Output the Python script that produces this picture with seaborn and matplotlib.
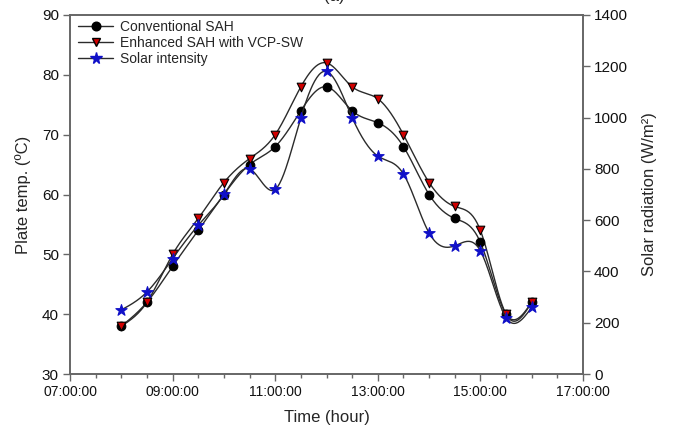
import numpy as np
import pandas as pd
import matplotlib
matplotlib.use("Agg")
import matplotlib.pyplot as plt
from matplotlib.lines import Line2D
from matplotlib.ticker import MultipleLocator, FixedLocator
import seaborn as sns

# ---- data ----
times = ["08:00", "08:30", "09:00", "09:30", "10:00", "10:30", "11:00", "11:30",
         "12:00", "12:30", "13:00", "13:30", "14:00", "14:30", "15:00", "15:30", "16:00"]
conventional = [38, 42, 48, 54, 60, 65, 68, 74, 78, 74, 72, 68, 60, 56, 52, 40, 42]
enhanced = [38, 42, 50, 56, 62, 66, 70, 78, 82, 78, 76, 70, 62, 58, 54, 40, 42]
solar = [250, 320, 450, 580, 700, 800, 720, 1000, 1180, 1000, 850, 780, 550, 500, 480, 220, 260]
x_tick_labels = ["07:00:00", "09:00:00", "11:00:00", "13:00:00", "15:00:00", "17:00:00"]

labels = ["Conventional SAH", "Enhanced SAH with VCP-SW", "Solar intensity"]


def to_hours(t):
    h, m = t.split(":")[:2]
    return int(h) + int(m) / 60.0


hours = np.array([to_hours(t) for t in times])
x_ticks = [to_hours(t) for t in x_tick_labels]


def natural_spline(x, y, n=400):
    x = np.asarray(x, float)
    y = np.asarray(y, float)
    k = len(x)
    h = np.diff(x)
    A = np.zeros((k, k))
    b = np.zeros(k)
    A[0, 0] = 1
    A[-1, -1] = 1
    for i in range(1, k - 1):
        A[i, i - 1] = h[i - 1]
        A[i, i] = 2 * (h[i - 1] + h[i])
        A[i, i + 1] = h[i]
        b[i] = 6 * ((y[i + 1] - y[i]) / h[i] - (y[i] - y[i - 1]) / h[i - 1])
    M = np.linalg.solve(A, b)
    xs = np.linspace(x[0], x[-1], n)
    idx = np.clip(np.searchsorted(x, xs) - 1, 0, k - 2)
    x0, x1 = x[idx], x[idx + 1]
    hh = x1 - x0
    a = (x1 - xs) / hh
    c = (xs - x0) / hh
    ys = (a * y[idx] + c * y[idx + 1]
          + ((a ** 3 - a) * M[idx] + (c ** 3 - c) * M[idx + 1]) * hh ** 2 / 6.0)
    return xs, ys


sns.set_style("ticks")
plt.rcParams["font.family"] = ["Liberation Sans", "DejaVu Sans"]

fig = plt.figure(figsize=(6.73, 4.41), dpi=100)
ax = fig.add_axes([70 / 673, 1 - 374 / 441, (583 - 70) / 673, (374 - 15) / 441])
ax2 = ax.twinx()

line_col = "#2b2b2b"
series = [
    (ax, conventional, "o", "black", 6.2, "black"),
    (ax, enhanced, "v", "#d00000", 6.2, "black"),
    (ax2, solar, "*", "#1010c8", 8.5, "#1010c8"),
]

for axis, vals, mk, col, ms, ec in series:
    xs, ys = natural_spline(hours, vals)
    sm = pd.DataFrame({"x": xs, "y": ys})
    sns.lineplot(data=sm, x="x", y="y", ax=axis, color=line_col, linewidth=1.0,
                 zorder=2, legend=False)
    pts = pd.DataFrame({"x": hours, "y": vals})
    sns.scatterplot(data=pts, x="x", y="y", ax=axis, marker=mk, color=col,
                    s=ms ** 2, edgecolor=ec, linewidth=0.8, zorder=3, legend=False)

ax.set_xlim(7, 17)
ax.set_ylim(30, 90)
ax2.set_ylim(0, 1400)

ax.xaxis.set_major_locator(FixedLocator(x_ticks))
ax.xaxis.set_minor_locator(MultipleLocator(0.5))
ax.set_xticklabels(x_tick_labels)
ax.yaxis.set_major_locator(MultipleLocator(10))
ax2.yaxis.set_major_locator(MultipleLocator(200))

spine_col = "#666666"
for a in (ax, ax2):
    for s in a.spines.values():
        s.set_visible(True)
        s.set_color(spine_col)
        s.set_linewidth(1.2)
    a.tick_params(axis="both", which="major", direction="out", length=5,
                  width=1.0, color=spine_col, labelsize=10, labelcolor="#111111", pad=3)
    a.tick_params(axis="both", which="minor", direction="out", length=3,
                  width=1.0, color=spine_col)
    a.tick_params(axis="y", labelsize=11)

ax.set_xlabel("Time (hour)", fontsize=12, labelpad=8)
ax.set_ylabel("Plate temp. (ºC)", fontsize=12, labelpad=8)
ax2.set_ylabel("Solar radiation (W/m²)", fontsize=12, labelpad=10)

handles = [
    Line2D([], [], color=line_col, lw=1.0, marker="o", markersize=6.2,
           markerfacecolor="black", markeredgecolor="black"),
    Line2D([], [], color=line_col, lw=1.0, marker="v", markersize=6.2,
           markerfacecolor="#d00000", markeredgecolor="black"),
    Line2D([], [], color=line_col, lw=1.0, marker="*", markersize=8.5,
           markerfacecolor="#1010c8", markeredgecolor="#1010c8"),
]
ax2.legend(handles, labels, loc="upper left", frameon=False, fontsize=10,
           handlelength=2.5, handletextpad=0.5, labelspacing=0.15,
           borderaxespad=0.2, bbox_to_anchor=(0.0, 1.01))

# panel label, cut off at the top edge as in the reference
fig.text(0.497, 1 - 1.5 / 441, "(a)", ha="center", va="baseline", fontsize=12)

fig.savefig("out.png", dpi=100)
